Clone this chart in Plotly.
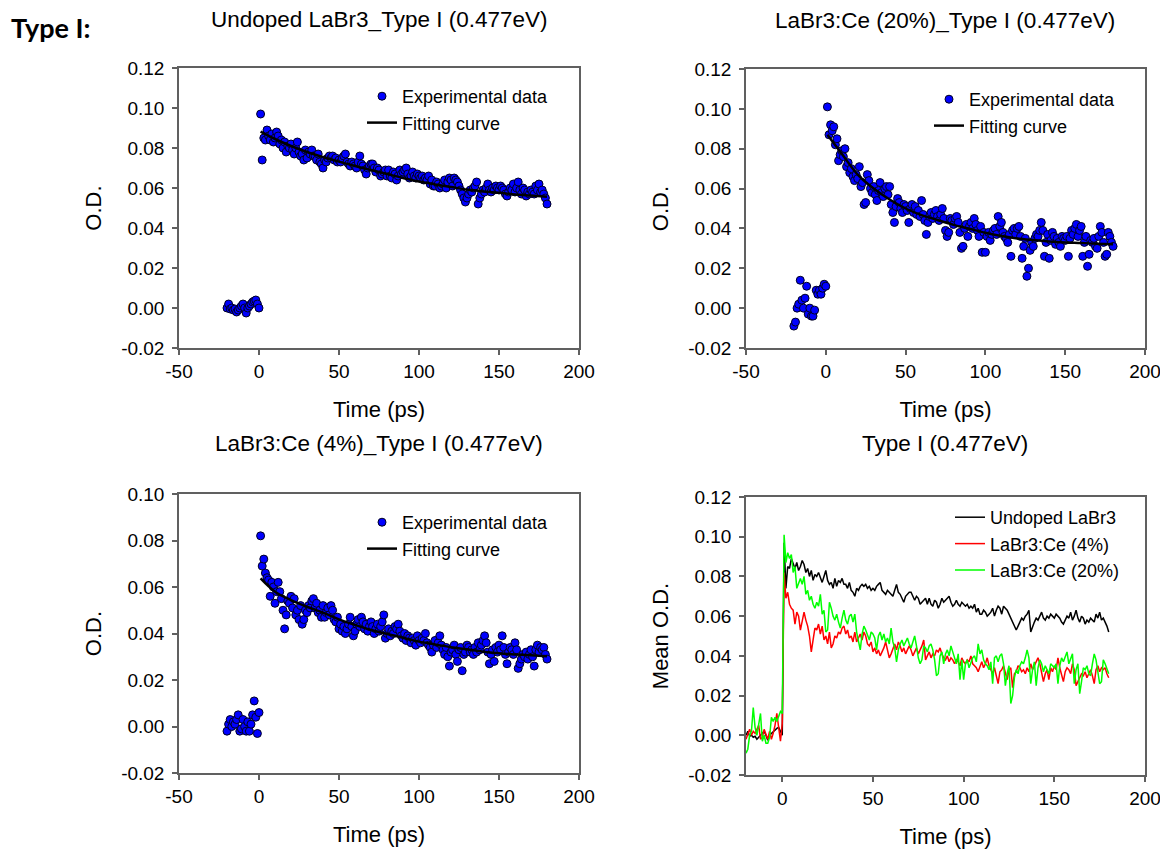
import plotly.graph_objects as go

# ---------------- data ----------------
t_pre = list(range(-20, 1))            # -20 ... 0 ps
t_post = list(range(1, 181))           # 1 ... 180 ps
t_fit = [1, 10, 20, 30, 40, 50, 60, 70, 80, 90, 100, 110, 120, 130, 140, 150, 160, 170, 180]

undoped_pre = [0.000, 0.002, -0.0005, 0.000, -0.001, -0.0005, -0.002, -0.001, 0.000, 0.001,
               0.002, 0.000, -0.0025, 0.000, 0.001, 0.002, 0.003, 0.0035, 0.004, 0.002, 0.000]
undoped_post = [
    0.097, 0.074, 0.085, 0.084, 0.089, 0.086, 0.084, 0.087, 0.083, 0.085,
    0.088, 0.086, 0.082, 0.084, 0.080, 0.083, 0.078, 0.081, 0.080, 0.082,
    0.079, 0.077, 0.080, 0.083, 0.078, 0.076, 0.077, 0.074, 0.079, 0.075,
    0.078, 0.077, 0.079, 0.076, 0.076, 0.074, 0.077, 0.073, 0.072, 0.070,
    0.074, 0.073, 0.075, 0.076, 0.075, 0.076, 0.074, 0.075, 0.073, 0.074,
    0.073, 0.075, 0.076, 0.077, 0.073, 0.072, 0.071, 0.073, 0.072, 0.071,
    0.070, 0.073, 0.076, 0.072, 0.071, 0.069, 0.067, 0.070, 0.071, 0.072,
    0.072, 0.070, 0.068, 0.070, 0.069, 0.066, 0.067, 0.068, 0.069, 0.066,
    0.069, 0.066, 0.065, 0.068, 0.067, 0.064, 0.066, 0.069, 0.067, 0.068,
    0.069, 0.070, 0.067, 0.065, 0.066, 0.068, 0.066, 0.065, 0.067, 0.066,
    0.065, 0.066, 0.064, 0.065, 0.064, 0.066, 0.062, 0.064, 0.061, 0.061,
    0.063, 0.062, 0.060, 0.061, 0.062, 0.064, 0.060, 0.063, 0.065, 0.064,
    0.061, 0.065, 0.064, 0.063, 0.061, 0.059, 0.057, 0.055, 0.053, 0.055,
    0.057, 0.059, 0.058, 0.060, 0.061, 0.063, 0.052, 0.055, 0.057, 0.059,
    0.058, 0.060, 0.062, 0.059, 0.058, 0.060, 0.059, 0.061, 0.060, 0.059,
    0.061, 0.060, 0.059, 0.057, 0.056, 0.058, 0.060, 0.059, 0.062, 0.058,
    0.060, 0.063, 0.059, 0.057, 0.060, 0.059, 0.056, 0.058, 0.057, 0.059,
    0.058, 0.057, 0.061, 0.059, 0.062, 0.058, 0.059, 0.057, 0.055, 0.052]
undoped_fit = [0.0882, 0.0845, 0.081, 0.078, 0.0755, 0.0732, 0.071, 0.069, 0.067, 0.065,
               0.0632, 0.0618, 0.0605, 0.0592, 0.0583, 0.0576, 0.0568, 0.0562, 0.0556]

ce20_pre = [-0.009, -0.007, 0.000, 0.002, 0.014, 0.004, 0.000, 0.005, 0.011, -0.003,
            0.000, -0.004, -0.004, -0.001, 0.009, 0.007, 0.009, 0.007, 0.010, 0.012, 0.011]
ce20_post = [
    0.101, 0.087, 0.092, 0.089, 0.091, 0.082, 0.085, 0.074, 0.077, 0.079,
    0.076, 0.080, 0.071, 0.073, 0.068, 0.070, 0.066, 0.064, 0.067, 0.065,
    0.071, 0.061, 0.063, 0.052, 0.053, 0.067, 0.064, 0.060, 0.058, 0.061,
    0.057, 0.054, 0.059, 0.063, 0.058, 0.056, 0.060, 0.061, 0.057, 0.061,
    0.052, 0.048, 0.043, 0.051, 0.055, 0.053, 0.050, 0.048, 0.052, 0.051,
    0.049, 0.043, 0.050, 0.052, 0.048, 0.051, 0.047, 0.049, 0.046, 0.054,
    0.047, 0.044, 0.037, 0.043, 0.046, 0.048, 0.045, 0.047, 0.049, 0.046,
    0.044, 0.047, 0.050, 0.045, 0.039, 0.036, 0.038, 0.045, 0.044, 0.042,
    0.045, 0.046, 0.043, 0.038, 0.030, 0.031, 0.040, 0.042, 0.036, 0.041,
    0.043, 0.040, 0.045, 0.042, 0.039, 0.036, 0.041, 0.028, 0.038, 0.028,
    0.036, 0.038, 0.034, 0.037, 0.039, 0.040, 0.037, 0.046, 0.041, 0.043,
    0.038, 0.036, 0.035, 0.033, 0.037, 0.026, 0.039, 0.040, 0.037, 0.040,
    0.041, 0.036, 0.025, 0.031, 0.035, 0.016, 0.020, 0.029, 0.033, 0.031,
    0.035, 0.037, 0.036, 0.039, 0.043, 0.039, 0.026, 0.033, 0.037, 0.025,
    0.034, 0.038, 0.036, 0.032, 0.035, 0.033, 0.031, 0.036, 0.035, 0.034,
    0.036, 0.026, 0.035, 0.039, 0.037, 0.040, 0.042, 0.036, 0.039, 0.041,
    0.026, 0.033, 0.036, 0.021, 0.027, 0.034, 0.033, 0.035, 0.031, 0.030,
    0.036, 0.041, 0.038, 0.033, 0.026, 0.027, 0.038, 0.036, 0.033, 0.031]
ce20_fit = [0.087, 0.0775, 0.067, 0.060, 0.0545, 0.050, 0.0467, 0.0442, 0.0418, 0.0398,
            0.0378, 0.0362, 0.0350, 0.0342, 0.0335, 0.0330, 0.0327, 0.0323, 0.0320]

ce4_pre = [-0.002, 0.001, 0.003, 0.000, 0.002, 0.001, 0.003, 0.005, -0.002, -0.001,
           0.003, 0.000, -0.002, 0.002, -0.002, 0.001, 0.005, 0.011, 0.004, -0.003, 0.006]
ce4_post = [
    0.082, 0.069, 0.072, 0.066, 0.064, 0.063, 0.056, 0.062, 0.060, 0.053,
    0.058, 0.062, 0.058, 0.055, 0.050, 0.042, 0.048, 0.054, 0.053, 0.056,
    0.051, 0.055, 0.048, 0.050, 0.046, 0.052, 0.044, 0.046, 0.050, 0.049,
    0.052, 0.051, 0.054, 0.055, 0.051, 0.053, 0.049, 0.050, 0.047, 0.052,
    0.047, 0.049, 0.051, 0.048, 0.052, 0.050, 0.046, 0.045, 0.047, 0.042,
    0.044, 0.041, 0.043, 0.040, 0.042, 0.044, 0.047, 0.043, 0.039, 0.041,
    0.044, 0.046, 0.043, 0.047, 0.045, 0.042, 0.044, 0.041, 0.043, 0.045,
    0.043, 0.040, 0.042, 0.044, 0.041, 0.043, 0.045, 0.048, 0.038, 0.040,
    0.042, 0.039, 0.041, 0.040, 0.043, 0.042, 0.044, 0.041, 0.039, 0.038,
    0.040, 0.037, 0.039, 0.038, 0.036, 0.038, 0.037, 0.035, 0.039, 0.037,
    0.036, 0.038, 0.037, 0.040, 0.036, 0.035, 0.034, 0.032, 0.035, 0.037,
    0.034, 0.036, 0.039, 0.035, 0.033, 0.031, 0.034, 0.030, 0.026, 0.032,
    0.033, 0.035, 0.031, 0.028, 0.033, 0.034, 0.024, 0.031, 0.032, 0.035,
    0.034, 0.032, 0.033, 0.031, 0.034, 0.032, 0.036, 0.033, 0.035, 0.037,
    0.039, 0.036, 0.032, 0.027, 0.031, 0.033, 0.028, 0.034, 0.032, 0.035,
    0.033, 0.039, 0.034, 0.031, 0.027, 0.032, 0.034, 0.033, 0.031, 0.036,
    0.033, 0.025, 0.027, 0.029, 0.031, 0.030, 0.032, 0.029, 0.031, 0.033,
    0.030, 0.026, 0.033, 0.035, 0.032, 0.034, 0.033, 0.034, 0.031, 0.029]
ce4_fit = [0.0637, 0.058, 0.0544, 0.0515, 0.049, 0.0461, 0.0437, 0.0415, 0.0398, 0.0382,
           0.0365, 0.0353, 0.0341, 0.0332, 0.0322, 0.0315, 0.031, 0.0306, 0.0302]

x_ticks = [-50, 0, 50, 100, 150, 200]
x_ticks4 = [0, 50, 100, 150, 200]
y_ticks_a = [-0.02, 0.00, 0.02, 0.04, 0.06, 0.08, 0.10, 0.12]
y_ticks_b = [-0.02, 0.00, 0.02, 0.04, 0.06, 0.08, 0.10]

titles = ["Undoped LaBr3_Type I (0.477eV)", "LaBr3:Ce (20%)_Type I (0.477eV)",
          "LaBr3:Ce (4%)_Type I (0.477eV)", "Type I (0.477eV)"]
mean_names = ["Undoped LaBr3", "LaBr3:Ce (4%)", "LaBr3:Ce (20%)"]

# ---------------- figure ----------------
# the page body has an 8px margin: the figure starts 8px in from the window's
# top-left corner, so positions below are window pixels shifted by that margin
OFF = 8
W, H = 1168 - OFF, 851 - OFF
def px_x(p): return (p - OFF) / W
def px_y(p): return 1 - (p - OFF) / H

FONT = "Liberation Sans, Arial, sans-serif"
fig = go.Figure()

t_all = t_pre + t_post
scatter_sets = [
    (undoped_pre + undoped_post, undoped_fit, "x", "y", "legend"),
    (ce20_pre + ce20_post, ce20_fit, "x2", "y2", "legend2"),
    (ce4_pre + ce4_post, ce4_fit, "x3", "y3", "legend3"),
]
for vals, fit, xa, ya, lg in scatter_sets:
    fig.add_trace(go.Scatter(
        x=t_all, y=vals, mode="markers", name="Experimental data",
        marker=dict(color="#0000FF", size=8, line=dict(color="#000022", width=1)),
        xaxis=xa, yaxis=ya, legend=lg))
    fig.add_trace(go.Scatter(
        x=t_fit, y=fit, mode="lines", name="Fitting curve",
        line=dict(color="black", width=2.5, shape="spline"),
        xaxis=xa, yaxis=ya, legend=lg))

for name, vals, col in zip(mean_names,
                           [undoped_pre + undoped_post, ce4_pre + ce4_post, ce20_pre + ce20_post],
                           ["black", "#FF0000", "#00FF00"]):
    fig.add_trace(go.Scatter(x=t_all, y=vals, mode="lines", name=name,
                             line=dict(color=col, width=1.5),
                             xaxis="x4", yaxis="y4", legend="legend4"))

axis_style = dict(showline=True, mirror=True, linecolor="#606060", linewidth=1.5,
                  ticks="outside", ticklen=5, tickcolor="#606060", tickwidth=1.5,
                  showgrid=False, zeroline=False, automargin=False,
                  ticklabeloverflow="allow",
                  tickfont=dict(size=19, color="black", family=FONT))

def xaxis(dom, anchor, rng, ticks):
    return dict(axis_style, domain=dom, anchor=anchor, range=rng,
                tickvals=ticks, ticktext=[str(v) for v in ticks], ticklabelstandoff=0,
                title=dict(text="Time (ps)", font=dict(size=22, color="black", family=FONT), standoff=21))

def yaxis(dom, anchor, rng, ticks, title):
    return dict(axis_style, domain=dom, anchor=anchor, range=rng,
                tickvals=ticks, ticktext=[f"{v:.2f}" for v in ticks], ticklabelstandoff=4,
                title=dict(text=title, font=dict(size=22, color="black", family=FONT), standoff=13))

dx_left = [px_x(179), px_x(579)]
dx_right = [px_x(746), px_x(1145)]

leg_common = dict(bgcolor="rgba(0,0,0,0)", font=dict(size=18, color="black", family=FONT),
                  xanchor="left", yanchor="top", tracegroupgap=0)

fig.update_layout(
    width=W, height=H, margin=dict(l=0, r=0, t=0, b=0, autoexpand=False),
    paper_bgcolor="white", plot_bgcolor="white",
    font=dict(family=FONT, color="black"),
    xaxis=xaxis(dx_left, "y", [-50, 200], x_ticks),
    yaxis=yaxis([px_y(348), px_y(68)], "x", [-0.02, 0.12], y_ticks_a, "O.D."),
    xaxis2=xaxis(dx_right, "y2", [-50, 200], x_ticks),
    yaxis2=yaxis([px_y(348), px_y(69)], "x2", [-0.02, 0.12], y_ticks_a, "O.D."),
    xaxis3=xaxis(dx_left, "y3", [-50, 200], x_ticks),
    yaxis3=yaxis([px_y(773), px_y(494)], "x3", [-0.02, 0.10], y_ticks_b, "O.D."),
    xaxis4=xaxis(dx_right, "y4", [-20, 200], x_ticks4),
    yaxis4=yaxis([px_y(775), px_y(497)], "x4", [-0.02, 0.12], y_ticks_a, "Mean O.D."),
    legend=dict(leg_common, x=px_x(362), y=px_y(78)),
    legend2=dict(leg_common, x=px_x(929), y=px_y(81)),
    legend3=dict(leg_common, x=px_x(362), y=px_y(504)),
    legend4=dict(leg_common, x=px_x(950), y=px_y(499)),
)

ann = []
for txt, cx, cy in zip(titles, [379, 945, 379, 945], [20, 21, 443, 443]):
    ann.append(dict(text=txt, x=px_x(cx), y=px_y(cy), xref="paper", yref="paper",
                    xanchor="center", yanchor="middle", showarrow=False,
                    font=dict(size=22.5, color="black", family=FONT)))
ann.append(dict(text="<b>Type I:</b>", x=px_x(9), y=px_y(27), xref="paper", yref="paper",
                xanchor="left", yanchor="middle", showarrow=False,
                font=dict(size=27, color="black", family="Lato, Open Sans, sans-serif")))
fig.update_layout(annotations=ann)

fig.write_html("out.html")
